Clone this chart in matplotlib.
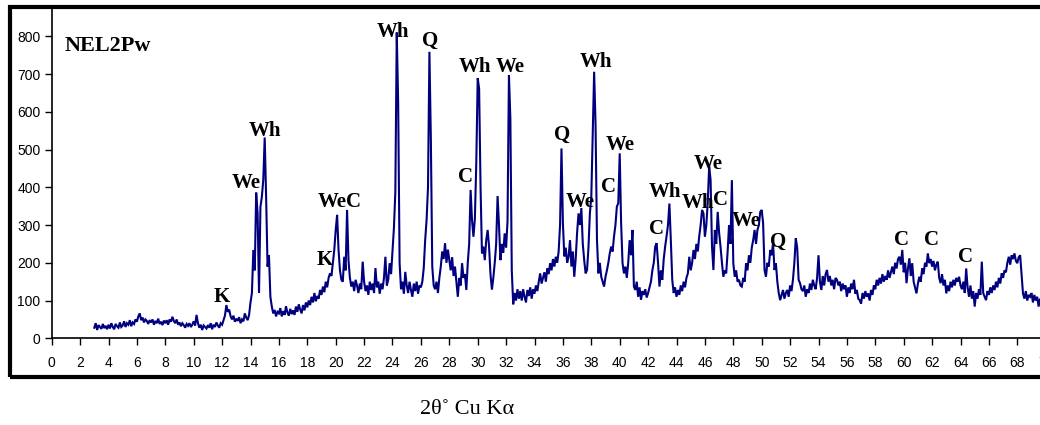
import numpy as np
import matplotlib
matplotlib.use("Agg")
import matplotlib.pyplot as plt
from matplotlib.patches import Rectangle

# 2-theta grid (0.1 degree steps, 3.0 .. 69.9)
two_theta = np.round(np.arange(3.0, 70.0, 0.1), 1)

# Intensity (counts), one row per degree
intensity = [
    28, 40, 22, 35, 30, 25, 38, 27, 33, 24,          # 3
    36, 26, 40, 30, 24, 38, 32, 28, 42, 30,          # 4
    34, 45, 30, 40, 36, 48, 32, 42, 38, 50,          # 5
    44, 58, 66, 48, 55, 42, 50, 46, 38, 48,          # 6
    42, 50, 36, 46, 40, 52, 38, 44, 35, 47,          # 7
    40, 48, 36, 50, 44, 57, 46, 40, 50, 36,          # 8
    42, 32, 40, 35, 28, 38, 33, 40, 30, 36,          # 9
    45, 34, 62, 40, 28, 36, 22, 34, 30, 26,          # 10
    35, 28, 40, 24, 36, 30, 42, 34, 28, 40,          # 11
    36, 48, 60, 88, 70, 76, 58, 50, 60, 44,          # 12
    52, 46, 56, 40, 50, 45, 66, 55, 48, 62,          # 13
    95, 120, 234, 180, 386, 331, 120, 348, 375, 420,  # 14
    532, 375, 190, 220, 110, 84, 66, 75, 58, 70,     # 15
    66, 80, 58, 72, 62, 85, 68, 60, 78, 64,          # 16
    74, 62, 84, 70, 90, 76, 66, 88, 74, 95,          # 17
    82, 100, 88, 110, 95, 120, 98, 112, 105, 128,    # 18
    115, 137, 122, 150, 135, 160, 172, 165, 200, 234,  # 19
    287, 327, 234, 180, 155, 150, 216, 180, 340, 207,  # 20
    160, 137, 150, 125, 155, 140, 120, 145, 130, 203,  # 21
    150, 125, 140, 115, 150, 128, 145, 120, 186, 135,  # 22
    150, 118, 145, 130, 160, 216, 140, 155, 199, 170,  # 23
    230, 292, 388, 810, 620, 199, 130, 150, 118, 176,  # 24
    140, 120, 150, 128, 110, 145, 125, 150, 118, 140,  # 25
    135, 150, 186, 260, 313, 400, 759, 530, 190, 140,  # 26
    130, 150, 120, 160, 190, 230, 210, 252, 200, 235,  # 27
    207, 180, 215, 165, 190, 150, 110, 160, 140, 199,  # 28
    160, 170, 128, 200, 250, 393, 313, 269, 316, 464,  # 29
    689, 662, 402, 225, 243, 207, 260, 287, 243, 170,  # 30
    129, 160, 200, 250, 377, 300, 207, 250, 227, 278,  # 31
    240, 310, 697, 582, 180, 90, 120, 100, 130, 105,   # 32
    125, 100, 130, 110, 95, 128, 112, 135, 105, 130,   # 33
    118, 140, 125, 150, 172, 145, 160, 175, 150, 185,  # 34
    170, 199, 180, 210, 190, 216, 200, 230, 300, 503,  # 35
    305, 217, 240, 200, 216, 260, 190, 230, 163, 210,  # 36
    280, 331, 300, 345, 250, 207, 172, 181, 240, 331,  # 37
    375, 543, 706, 565, 260, 172, 200, 163, 150, 137,  # 38
    163, 180, 200, 225, 243, 230, 270, 300, 349, 358,  # 39
    490, 305, 199, 172, 190, 160, 200, 260, 220, 287,  # 40
    137, 128, 150, 110, 135, 102, 125, 115, 130, 108,  # 41
    120, 135, 150, 180, 200, 243, 252, 200, 137, 180,  # 42
    155, 210, 243, 270, 300, 357, 260, 155, 120, 135,  # 43
    110, 128, 115, 140, 125, 150, 135, 160, 172, 216,  # 44
    180, 200, 234, 210, 250, 230, 270, 300, 340, 331,  # 45
    269, 300, 360, 455, 420, 243, 181, 287, 250, 335,  # 46
    280, 243, 200, 163, 180, 172, 230, 300, 250, 419,  # 47
    199, 163, 180, 150, 155, 140, 137, 160, 150, 199,  # 48
    180, 220, 200, 240, 260, 287, 250, 287, 300, 335,  # 49
    340, 305, 181, 163, 200, 190, 234, 220, 252, 181,  # 50
    199, 150, 120, 101, 115, 128, 105, 120, 128, 110,  # 51
    140, 125, 155, 200, 265, 240, 155, 146, 130, 125,  # 52
    140, 110, 130, 120, 145, 128, 155, 140, 130, 160,  # 53
    220, 150, 128, 165, 140, 170, 181, 150, 165, 140,  # 54
    155, 130, 160, 155, 140, 150, 125, 145, 130, 140,  # 55
    110, 135, 120, 145, 130, 155, 118, 128, 105, 101,  # 56
    92, 120, 105, 125, 110, 119, 100, 128, 115, 140,   # 57
    130, 155, 140, 160, 145, 170, 150, 165, 155, 180,  # 58
    160, 175, 190, 170, 200, 185, 210, 216, 195, 234,  # 59
    175, 200, 146, 185, 212, 165, 199, 150, 135, 119,  # 60
    145, 163, 150, 185, 170, 200, 190, 225, 199, 210,  # 61
    190, 205, 180, 195, 203, 160, 146, 170, 140, 155,  # 62
    119, 140, 125, 150, 135, 155, 140, 160, 150, 163,  # 63
    140, 130, 150, 120, 185, 135, 110, 140, 105, 125,  # 64
    84, 120, 105, 130, 115, 203, 120, 110, 101, 125,   # 65
    115, 135, 120, 140, 128, 150, 135, 160, 145, 172,  # 66
    160, 180, 175, 200, 216, 195, 220, 210, 225, 205,  # 67
    199, 215, 220, 170, 119, 105, 125, 100, 115, 110,  # 68
    120, 95, 115, 100, 110, 84, 105, 98, 112, 95,      # 69
]

x_ticks = list(range(0, 71, 2))
y_ticks = list(range(0, 801, 100))

sample_name = "NEL2Pw"
x_label = "2θ˚ Cu Kα"

# phase labels: (text, 2theta, intensity)
phase_labels = ["K", "We", "Wh", "K", "WeC", "Wh", "Q", "Wh", "We", "C",
                "Q", "Wh", "We", "C", "We", "C", "Wh", "Wh", "We", "C",
                "We", "Q", "C", "C", "C"]
label_x = [11.97, 13.73, 15.02, 19.25, 20.25, 24.06, 26.64, 29.81, 32.28, 29.11,
           35.92, 38.33, 37.2, 39.2, 40.02, 42.6, 43.19, 45.54, 46.24, 47.11,
           48.94, 51.17, 59.86, 61.97, 64.32]
label_y = [110, 411, 550, 207, 362, 812, 788, 718, 719, 428,
           539, 733, 360, 402, 512, 289, 388, 358, 462, 366,
           312, 256, 260, 260, 216]

W, H = 1040, 425
fig = plt.figure(figsize=(W / 100, H / 100), dpi=100)
fig.patch.set_facecolor("white")

x0, x1 = 51.7, 51.7 + 14.2 * 70
y_bot, y_top = 338.3, 8.0
ax = fig.add_axes([x0 / W, (H - y_bot) / H, (x1 - x0) / W, (y_bot - y_top) / H])
ax.set_xlim(0, 70)
ax.set_ylim(0, 875)

ax.plot(two_theta, intensity, color="#00007f", lw=1.5, solid_joinstyle="miter")

for s in ("top", "right"):
    ax.spines[s].set_visible(False)
for s in ("left", "bottom"):
    ax.spines[s].set_linewidth(1.2)
    ax.spines[s].set_color("black")

ax.set_xticks(x_ticks)
ax.set_yticks(y_ticks)
ax.tick_params(axis="both", direction="out", length=5, width=1.0, colors="black",
               labelsize=10)
ax.tick_params(axis="x", pad=8)
ax.tick_params(axis="y", pad=3)
for lab in ax.get_xticklabels() + ax.get_yticklabels():
    lab.set_family("Liberation Sans")

serif = "Liberation Serif"
ax.text(0.94, 774, sample_name, family=serif, fontweight="bold", fontsize=16,
        ha="left", va="center")
for t, lx, ly in zip(phase_labels, label_x, label_y):
    ax.text(lx, ly, t, family=serif, fontweight="bold", fontsize=15,
            ha="center", va="center")

fig.text(467 / W, (H - 409) / H, x_label, family=serif, fontsize=16,
         ha="center", va="center")

# outer frame
fig.patches.append(Rectangle((10 / W, (H - 377) / H), 1.1, (377 - 6.5) / H,
                             transform=fig.transFigure, fill=False,
                             edgecolor="black", lw=3.0, clip_on=False))

fig.savefig("out.png", dpi=100)
